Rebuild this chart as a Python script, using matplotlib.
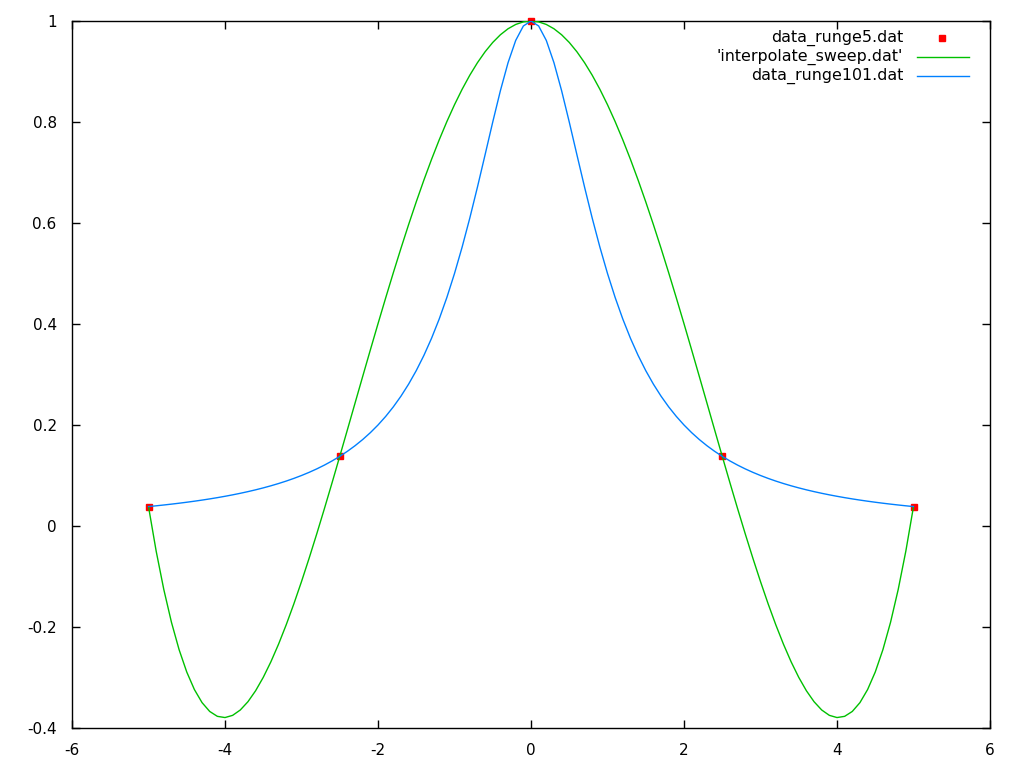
import matplotlib
matplotlib.use("Agg")
import matplotlib.pyplot as plt
from matplotlib.lines import Line2D
from matplotlib.ticker import FuncFormatter

# ---- data ----
x5 = [-5.0, -2.5, 0.0, 2.5, 5.0]
y5 = [0.038462, 0.137931, 1.0, 0.137931, 0.038462]

x101 = [-5.0, -4.9, -4.8, -4.7, -4.6, -4.5, -4.4, -4.3, -4.2, -4.1,
        -4.0, -3.9, -3.8, -3.7, -3.6, -3.5, -3.4, -3.3, -3.2, -3.1,
        -3.0, -2.9, -2.8, -2.7, -2.6, -2.5, -2.4, -2.3, -2.2, -2.1,
        -2.0, -1.9, -1.8, -1.7, -1.6, -1.5, -1.4, -1.3, -1.2, -1.1,
        -1.0, -0.9, -0.8, -0.7, -0.6, -0.5, -0.4, -0.3, -0.2, -0.1,
        0.0, 0.1, 0.2, 0.3, 0.4, 0.5, 0.6, 0.7, 0.8, 0.9,
        1.0, 1.1, 1.2, 1.3, 1.4, 1.5, 1.6, 1.7, 1.8, 1.9,
        2.0, 2.1, 2.2, 2.3, 2.4, 2.5, 2.6, 2.7, 2.8, 2.9,
        3.0, 3.1, 3.2, 3.3, 3.4, 3.5, 3.6, 3.7, 3.8, 3.9,
        4.0, 4.1, 4.2, 4.3, 4.4, 4.5, 4.6, 4.7, 4.8, 4.9, 5.0]

y_runge101 = [0.038462, 0.039984, 0.041597, 0.043309, 0.045126, 0.047059, 0.049116, 0.051308, 0.053648, 0.056148,
              0.058824, 0.061690, 0.064767, 0.068074, 0.071633, 0.075472, 0.079618, 0.084104, 0.088968, 0.094251,
              0.100000, 0.106270, 0.113122, 0.120627, 0.128866, 0.137931, 0.147929, 0.158983, 0.171233, 0.184843,
              0.200000, 0.216920, 0.235849, 0.257069, 0.280899, 0.307692, 0.337838, 0.371747, 0.409836, 0.452489,
              0.500000, 0.552486, 0.609756, 0.671141, 0.735294, 0.800000, 0.862069, 0.917431, 0.961538, 0.990099,
              1.000000, 0.990099, 0.961538, 0.917431, 0.862069, 0.800000, 0.735294, 0.671141, 0.609756, 0.552486,
              0.500000, 0.452489, 0.409836, 0.371747, 0.337838, 0.307692, 0.280899, 0.257069, 0.235849, 0.216920,
              0.200000, 0.184843, 0.171233, 0.158983, 0.147929, 0.137931, 0.128866, 0.120627, 0.113122, 0.106270,
              0.100000, 0.094251, 0.088968, 0.084104, 0.079618, 0.075472, 0.071633, 0.068074, 0.064767, 0.061690,
              0.058824, 0.056148, 0.053648, 0.051308, 0.049116, 0.047059, 0.045126, 0.043309, 0.041597, 0.039984, 0.038462]

y_sweep = [0.038462, -0.049572, -0.125730, -0.190641, -0.244911, -0.289130, -0.323879, -0.349725, -0.367220, -0.376906,
           -0.379312, -0.374953, -0.364332, -0.347939, -0.326251, -0.299734, -0.268840, -0.234006, -0.195661, -0.154218,
           -0.110078, -0.063629, -0.015247, 0.034705, 0.085878, 0.137931, 0.190546, 0.243406, 0.296212, 0.348679,
           0.400532, 0.451511, 0.501368, 0.549866, 0.596784, 0.641911, 0.685049, 0.726015, 0.764635, 0.800752,
           0.834218, 0.864900, 0.892677, 0.917441, 0.939096, 0.957560, 0.972762, 0.984645, 0.993165, 0.998290,
           1.000000, 0.998290, 0.993165, 0.984645, 0.972762, 0.957560, 0.939096, 0.917441, 0.892677, 0.864900,
           0.834218, 0.800752, 0.764635, 0.726015, 0.685049, 0.641911, 0.596784, 0.549866, 0.501368, 0.451511,
           0.400532, 0.348679, 0.296212, 0.243406, 0.190546, 0.137931, 0.085878, 0.034705, -0.015247, -0.063629,
           -0.110078, -0.154218, -0.195661, -0.234006, -0.268840, -0.299734, -0.326251, -0.347939, -0.364332, -0.374953,
           -0.379312, -0.376906, -0.367220, -0.349725, -0.323879, -0.289130, -0.244911, -0.190641, -0.125730, -0.049572, 0.038462]

labels = ["data_runge5.dat", "'interpolate_sweep.dat'", "data_runge101.dat"]
xticks = [-6, -4, -2, 0, 2, 4, 6]
yticks = [-0.4, -0.2, 0, 0.2, 0.4, 0.6, 0.8, 1]

RED = "#ff0000"
GREEN = "#00c000"
BLUE = "#0080ff"

plt.rcParams['font.family'] = ['DejaVu Sans']
fig = plt.figure(figsize=(10.24, 7.68), dpi=100)
W, H = 1024, 768
ax = fig.add_axes([72 / W, 1 - 728 / H, (990 - 72) / W, (728 - 21) / H])

ax.plot(x5, y5, linestyle='none', marker='s', ms=4.2, color=RED, mec=RED, zorder=2, clip_on=False)
ax.plot(x101, y_sweep, color=GREEN, lw=1.0, zorder=3)
ax.plot(x101, y_runge101, color=BLUE, lw=1.0, zorder=4)

ax.set_xlim(-6, 6)
ax.set_ylim(-0.4, 1)
ax.set_xticks(xticks)
ax.set_yticks(yticks)
fmt = FuncFormatter(lambda v, p: "%g" % round(v, 6))
ax.xaxis.set_major_formatter(fmt)
ax.yaxis.set_major_formatter(fmt)
ax.tick_params(direction='in', length=6, width=1, top=True, right=True,
               labelsize=11, colors='black')
ax.tick_params(axis='y', pad=11)
ax.tick_params(axis='x', pad=10.5)
for s in ax.spines.values():
    s.set_linewidth(1.0)
    s.set_color('black')

# legend (gnuplot style: right-aligned labels, samples on the right)
rows_y = [38, 57, 76]
for lab, ry in zip(labels, rows_y):
    fig.text(903 / W, 1 - ry / H, lab, ha='right', va='center', fontsize=11.4)
fig.add_artist(Line2D([942 / W], [1 - rows_y[0] / H], marker='s', ms=4.2,
                      color=RED, linestyle='none', transform=fig.transFigure))
fig.add_artist(Line2D([917 / W, 969 / W], [1 - rows_y[1] / H] * 2, color=GREEN, lw=1.0,
                      transform=fig.transFigure))
fig.add_artist(Line2D([917 / W, 969 / W], [1 - rows_y[2] / H] * 2, color=BLUE, lw=1.0,
                      transform=fig.transFigure))

fig.savefig("out.png", dpi=100)
